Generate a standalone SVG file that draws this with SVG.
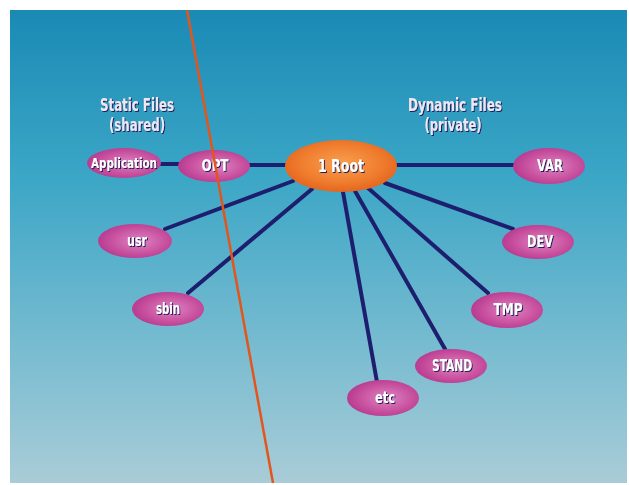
<svg xmlns="http://www.w3.org/2000/svg" width="629" height="485" viewBox="0 0 629 485">
<defs>
<linearGradient id="bg" x1="0" y1="0" x2="0" y2="1">
<stop offset="0" stop-color="#1a8ab5"/>
<stop offset="0.35" stop-color="#3ba6c6"/>
<stop offset="0.7" stop-color="#76bbd0"/>
<stop offset="1" stop-color="#a9ccd7"/>
</linearGradient>
<radialGradient id="pink" cx="0.55" cy="0.5" r="0.6">
<stop offset="0" stop-color="#dc85c6"/>
<stop offset="0.6" stop-color="#c9529f"/>
<stop offset="1" stop-color="#b3358e"/>
</radialGradient>
<radialGradient id="orange" cx="0.5" cy="0.45" r="0.6">
<stop offset="0" stop-color="#f8a050"/>
<stop offset="0.6" stop-color="#f07d2e"/>
<stop offset="1" stop-color="#e0601c"/>
</radialGradient>
<filter id="sh" x="-20%" y="-20%" width="140%" height="140%">
<feFlood flood-color="#231a5a"/>
<feComposite in2="SourceAlpha" operator="in"/>
<feOffset dx="1.2" dy="1.2" result="s"/>
<feMerge><feMergeNode in="s"/><feMergeNode in="SourceGraphic"/></feMerge>
</filter>
<style>
.node{fill:url(#pink)}
.lbl{font-family:"DejaVu Sans Condensed","DejaVu Sans",sans-serif;font-weight:bold;font-size:15px;fill:#ffffff;text-anchor:middle;filter:url(#sh)}
.hdr{font-family:"DejaVu Sans Condensed","DejaVu Sans",sans-serif;font-weight:bold;font-size:17px;fill:#ece8f6;text-anchor:middle;filter:url(#sh)}
.con{stroke:#1d1f6e;stroke-width:4;fill:none;stroke-linecap:round}
</style>
</defs>
<rect width="629" height="485" fill="#ffffff"/>
<rect x="10" y="10" width="617" height="473" fill="url(#bg)"/>
<text class="hdr" x="137" y="111" textLength="74" lengthAdjust="spacingAndGlyphs">Static Files</text>
<text class="hdr" x="137" y="131" textLength="56" lengthAdjust="spacingAndGlyphs">(shared)</text>
<text class="hdr" x="455" y="111" textLength="94" lengthAdjust="spacingAndGlyphs">Dynamic Files</text>
<text class="hdr" x="453" y="131" textLength="57" lengthAdjust="spacingAndGlyphs">(private)</text>
<g id="connectors">
<line class="con" x1="160" y1="164" x2="179" y2="164"/>
<line class="con" x1="249" y1="165" x2="287" y2="165"/>
<line class="con" x1="395" y1="165" x2="514" y2="165"/>
<line class="con" x1="385" y1="183" x2="513" y2="229"/>
<line class="con" x1="368" y1="188" x2="488" y2="293"/>
<line class="con" x1="355" y1="191" x2="445" y2="349"/>
<line class="con" x1="343" y1="192" x2="377" y2="382"/>
<line class="con" x1="293" y1="181" x2="165" y2="229"/>
<line class="con" x1="312" y1="189" x2="188" y2="293"/>
</g>
<g id="application"><ellipse class="node" cx="124" cy="163" rx="37" ry="15"/><text class="lbl" x="124" y="168" style="font-size:14px" textLength="66" lengthAdjust="spacingAndGlyphs">Application</text></g>
<g id="opt"><ellipse class="node" cx="214" cy="166" rx="36" ry="16"/><text class="lbl" x="215" y="171" textLength="27" lengthAdjust="spacingAndGlyphs">OPT</text></g>
<g id="root"><ellipse cx="341" cy="166" rx="56" ry="26" fill="url(#orange)"/><text class="lbl" x="341" y="172" style="font-size:18px" textLength="46" lengthAdjust="spacingAndGlyphs">1 Root</text></g>
<g id="var"><ellipse class="node" cx="549" cy="166" rx="36" ry="18"/><text class="lbl" x="550" y="171" textLength="26" lengthAdjust="spacingAndGlyphs">VAR</text></g>
<g id="dev"><ellipse class="node" cx="538" cy="242" rx="36" ry="17"/><text class="lbl" x="540" y="247" textLength="26" lengthAdjust="spacingAndGlyphs">DEV</text></g>
<g id="usr"><ellipse class="node" cx="135" cy="241" rx="37" ry="17"/><text class="lbl" x="137" y="246" textLength="20" lengthAdjust="spacingAndGlyphs">usr</text></g>
<g id="sbin"><ellipse class="node" cx="168" cy="309" rx="36" ry="17"/><text class="lbl" x="168" y="314" textLength="24" lengthAdjust="spacingAndGlyphs">sbin</text></g>
<g id="tmp"><ellipse class="node" cx="507" cy="310" rx="36" ry="18"/><text class="lbl" x="508" y="315" textLength="29" lengthAdjust="spacingAndGlyphs">TMP</text></g>
<g id="stand"><ellipse class="node" cx="451" cy="366" rx="36" ry="17"/><text class="lbl" x="452" y="371" textLength="40" lengthAdjust="spacingAndGlyphs">STAND</text></g>
<g id="etc"><ellipse class="node" cx="383" cy="398" rx="36" ry="18"/><text class="lbl" x="385" y="403" textLength="20" lengthAdjust="spacingAndGlyphs">etc</text></g>
<line x1="187" y1="10" x2="273" y2="483" stroke="#e2561e" stroke-width="2.5"/>
</svg>
